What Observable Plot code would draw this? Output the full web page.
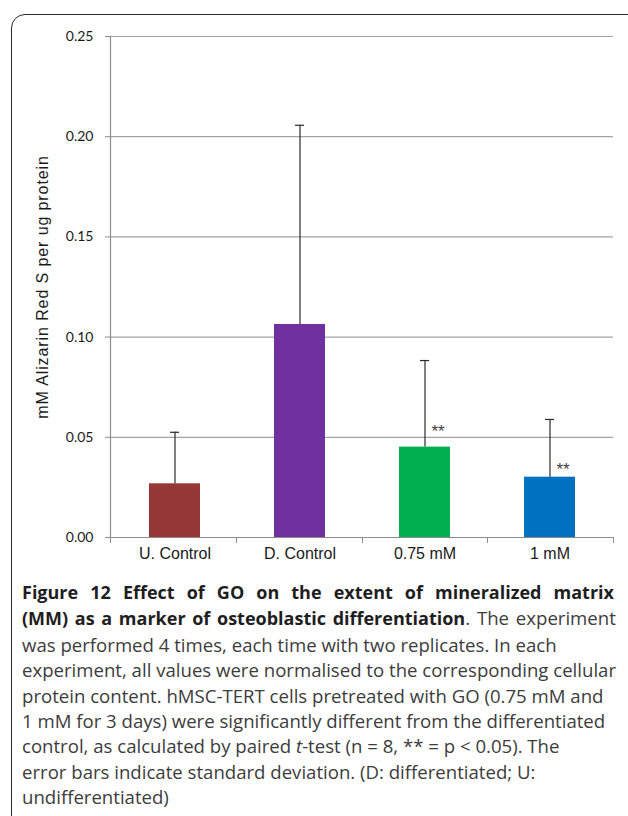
<!DOCTYPE html>
<html>
<head>
<meta charset="utf-8">
<script src="https://cdn.jsdelivr.net/npm/d3@7"></script>
<script src="https://cdn.jsdelivr.net/npm/@observablehq/plot@0.6"></script>
<style>
  html, body { margin: 0; padding: 0; width: 628px; height: 816px; overflow: hidden; background: #fff; }
  #frame { position: absolute; left: 10.5px; top: 13.5px; width: 640px; height: 900px;
           border: 1.6px solid #2a2a2a; border-radius: 14px; box-sizing: border-box; }
  #chart { position: absolute; left: 0; top: 0; }
  #caption { position: absolute; left: 22px; top: 579px; width: 592px; font-family: "Open Sans", sans-serif;
             font-size: 18.6px; line-height: 25.4px; color: #3c3c3c; white-space: nowrap; }
  #caption b { color: #1e1e1e; font-weight: 700; font-size: 18px; }
  #caption .just { text-align: justify; text-align-last: justify; white-space: normal; }
  #caption .wide { word-spacing: 2px; }
</style>
</head>
<body>
<div id="frame"></div>
<div id="chart"></div>
<div id="caption"></div>
<script>
const categories = ["U. Control", "D. Control", "0.75 mM", "1 mM"];
const values = [0.0268, 0.1063, 0.0451, 0.0301];
const sds = [0.0257, 0.0994, 0.0432, 0.0288];
const colors = ["#953735", "#7030A0", "#00B050", "#0070C0"];
const stars = ["", "", "**", "**"];
const starValues = [null, null, 0.0548, 0.0359];
const yTicks = [0, 0.05, 0.10, 0.15, 0.20, 0.25];
const yLabel = "mM Alizarin Red S per ug protein";
const captionBold = ["Figure 12 Effect of GO on the extent of mineralized matrix",
                     "(MM) as a marker of osteoblastic differentiation"];
const captionLines = [
  ". The experiment",
  "was performed 4 times, each time with two replicates. In each",
  "experiment, all values were normalised to the corresponding cellular",
  "protein content. hMSC-TERT cells pretreated with GO (0.75 mM and",
  "1 mM for 3 days) were significantly different from the differentiated",
  "control, as calculated by paired <i>t</i>-test (n = 8, ** = p &lt; 0.05). The",
  "error bars indicate standard deviation. (D: differentiated; U:",
  "undifferentiated)"
];

const data = categories.map((c, i) => ({
  cat: c, value: values[i], sd: sds[i], color: colors[i], star: stars[i], starY: starValues[i]
}));

const gap = 0.595;

const boundaryTicks = (index, scales, values, dims) => {
  const g = d3.create("svg:g").attr("stroke", "#8c8c8c").attr("stroke-width", 1);
  const x0 = dims.marginLeft, x1 = dims.width - dims.marginRight;
  const yb = dims.height - dims.marginBottom;
  const n = categories.length;
  for (let i = 0; i <= n; i++) {
    const xx = Math.round(x0 + (x1 - x0) * i / n) + 0.5;
    g.append("line").attr("x1", xx).attr("x2", xx).attr("y1", yb).attr("y2", yb + 6);
  }
  return g.node();
};

const chart = Plot.plot({
  width: 628,
  height: 578,
  marginLeft: 110,
  marginRight: 15,
  marginTop: 36,
  marginBottom: 41,
  x: { domain: categories, paddingInner: gap, paddingOuter: gap / 2, label: null },
  y: { domain: [0, 0.25], label: null },
  style: { background: "transparent" },
  marks: [
    Plot.gridY(yTicks, { stroke: "#a3a3a3", strokeOpacity: 1, strokeWidth: 1.2 }),
    Plot.frame({ anchor: "left", stroke: "#8c8c8c", strokeWidth: 1.2 }),
    Plot.axisY(yTicks, {
      tickFormat: d3.format(".2f"), tickSize: 5, tickPadding: 12, stroke: "#8c8c8c",
      fontSize: 14, fontFamily: "Lato, sans-serif", fill: "#1a1a1a", label: null
    }),
    Plot.text([yLabel], {
      frameAnchor: "left", textAnchor: "middle", rotate: -90, dx: -68, dy: 0, fontSize: 16,
      fontFamily: "'Liberation Sans', Arial, sans-serif",
      fill: "#1a1a1a", text: d => d
    }),
    Plot.axisX({
      tickSize: 0, tickPadding: 10, fontSize: 16, fontFamily: "'Liberation Sans', Arial, sans-serif",
      fill: "#1a1a1a", label: null
    }),
    Plot.barY(data, { x: "cat", y: "value", fill: "color" }),
    Plot.ruleY([0], { stroke: "#8c8c8c", strokeWidth: 1.2 }),
    boundaryTicks,
    Plot.ruleX(data, { x: "cat", y1: "value", y2: d => d.value + d.sd, stroke: "#2b2b2b", strokeWidth: 1.2 }),
    Plot.tickY(data, { x: "cat", y: d => d.value + d.sd, stroke: "#2b2b2b", strokeWidth: 1.2, insetLeft: 21, insetRight: 21 }),
    Plot.text(data.filter(d => d.star), { x: "cat", y: "starY", text: "star", dx: 13, dy: 4,
      fontSize: 17, fontFamily: "'Liberation Sans', Arial, sans-serif", fill: "#404040" })
  ]
});
chart.querySelectorAll("text").forEach(t => {
  if (t.textContent === yLabel) t.setAttribute("letter-spacing", "0.9px");
});
document.getElementById("chart").appendChild(chart);

const cap = document.getElementById("caption");
cap.innerHTML =
  "<div class='just'><b>" + captionBold[0] + "</b></div>" +
  "<div class='wide'><b>" + captionBold[1] + "</b>" + captionLines[0] + "</div>" +
  captionLines.slice(1).map(l => "<div>" + l + "</div>").join("");
</script>
</body>
</html>
